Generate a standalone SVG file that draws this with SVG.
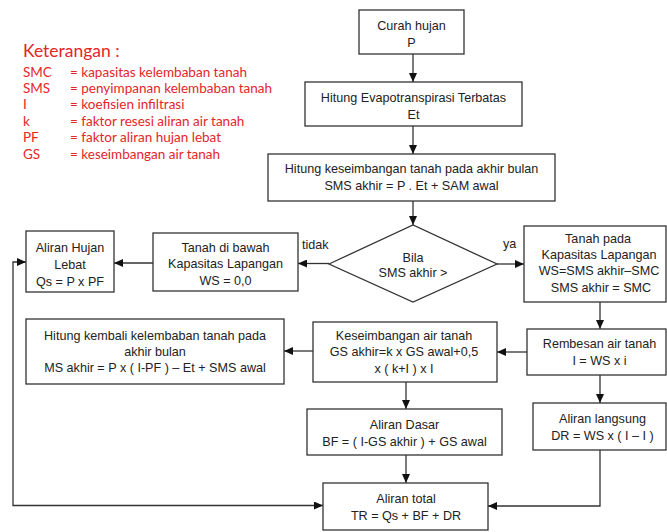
<svg xmlns="http://www.w3.org/2000/svg" width="667" height="532" viewBox="0 0 667 532">
<style>
.box{fill:#fff;stroke:#333;stroke-width:1.3}
.t{font-family:"Liberation Sans",Arial,sans-serif;font-size:12.6px;fill:#222;text-anchor:middle}
.lbl{font-family:"Liberation Sans",Arial,sans-serif;font-size:12.6px;fill:#222}
.leg{font-family:Lato,"Open Sans",sans-serif;font-size:13.5px;fill:#e3262a}
.c{fill:none;stroke:#333;stroke-width:1.3}
</style>
<defs>
<marker id="ah" viewBox="0 0 10 10" refX="10" refY="5" markerWidth="9" markerHeight="8" markerUnits="userSpaceOnUse" orient="auto-start-reverse" preserveAspectRatio="none">
<path d="M0,0 L10,5 L0,10 z" fill="#111"/>
</marker>
</defs>
<rect width="667" height="532" fill="#fff"/>
<g id="legend">
<text class="leg" x="23" y="57" style="font-size:17.5px">Keterangan :</text>
<text class="leg" x="23" y="76.5">SMC</text><text class="leg" x="70" y="76.5">= kapasitas kelembaban tanah</text>
<text class="leg" x="23" y="92.9">SMS</text><text class="leg" x="70" y="92.9">= penyimpanan kelembaban tanah</text>
<text class="leg" x="23" y="109.3">I</text><text class="leg" x="70" y="109.3">= koefisien infiltrasi</text>
<text class="leg" x="23" y="125.7">k</text><text class="leg" x="70" y="125.7">= faktor resesi aliran air tanah</text>
<text class="leg" x="23" y="142.1">PF</text><text class="leg" x="70" y="142.1">= faktor aliran hujan lebat</text>
<text class="leg" x="23" y="158.5">GS</text><text class="leg" x="70" y="158.5">= keseimbangan air tanah</text>
</g>
<g id="connectors">
<line class="c" x1="413" y1="54" x2="413" y2="82" marker-end="url(#ah)"/>
<line class="c" x1="413" y1="126" x2="413" y2="154" marker-end="url(#ah)"/>
<line class="c" x1="413" y1="201" x2="413" y2="225" marker-end="url(#ah)"/>
<line class="c" x1="329" y1="263.5" x2="298" y2="263.5" marker-end="url(#ah)"/>
<line class="c" x1="153" y1="263" x2="114" y2="263" marker-end="url(#ah)"/>
<line class="c" x1="497" y1="264" x2="524" y2="264" marker-end="url(#ah)"/>
<line class="c" x1="600" y1="302" x2="600" y2="329" marker-end="url(#ah)"/>
<line class="c" x1="527" y1="352" x2="497" y2="352" marker-end="url(#ah)"/>
<line class="c" x1="313" y1="351" x2="284" y2="351" marker-end="url(#ah)"/>
<line class="c" x1="406" y1="382" x2="406" y2="409" marker-end="url(#ah)"/>
<line class="c" x1="600" y1="375" x2="600" y2="403" marker-end="url(#ah)"/>
<line class="c" x1="406" y1="455" x2="406" y2="483" marker-end="url(#ah)"/>
<path class="c" d="M600,450 V506 H488" marker-end="url(#ah)"/>
<path class="c" d="M26,262 H13 V505.5 H323" marker-start="url(#ah)" marker-end="url(#ah)"/>
<text class="lbl" x="302" y="248.5">tidak</text>
<text class="lbl" x="503" y="247.5">ya</text>
</g>
<g id="curah">
<rect class="box" x="359" y="10" width="105" height="44"/>
<text class="t" x="411.5" y="29.5">Curah hujan</text>
<text class="t" x="411.5" y="46.5">P</text>
</g>
<g id="evapo">
<rect class="box" x="305" y="82" width="217" height="44"/>
<text class="t" x="413.5" y="101.5">Hitung Evapotranspirasi Terbatas</text>
<text class="t" x="413.5" y="118.5">Et</text>
</g>
<g id="keseimbangan-tanah">
<rect class="box" x="268" y="154" width="287" height="47"/>
<text class="t" x="411.5" y="172.5">Hitung keseimbangan tanah pada akhir bulan</text>
<text class="t" x="411.5" y="189.5">SMS akhir = P . Et + SAM awal</text>
</g>
<g id="bila">
<polygon class="box" points="329,264 413,225 497,264 413,302"/>
<text class="t" x="413" y="261.5">Bila</text>
<text class="t" x="413" y="276.5">SMS akhir &gt;</text>
</g>
<g id="tanah-bawah">
<rect class="box" x="153" y="233" width="145" height="58"/>
<text class="t" x="225.5" y="251.5">Tanah di bawah</text>
<text class="t" x="225.5" y="268">Kapasitas Lapangan</text>
<text class="t" x="225.5" y="284.5">WS = 0,0</text>
</g>
<g id="aliran-hujan">
<rect class="box" x="26" y="231" width="88" height="61"/>
<text class="t" x="70" y="251.5">Aliran Hujan</text>
<text class="t" x="70" y="268.5">Lebat</text>
<text class="t" x="70" y="285.5">Qs = P x PF</text>
</g>
<g id="tanah-pada">
<rect class="box" x="524" y="226" width="142" height="76"/>
<text class="t" x="598" y="242.5">Tanah pada</text>
<text class="t" x="599" y="258.5">Kapasitas Lapangan</text>
<text class="t" x="599" y="275">WS=SMS akhir–SMC</text>
<text class="t" x="601" y="291.5">SMS akhir = SMC</text>
</g>
<g id="rembesan">
<rect class="box" x="527" y="329" width="139" height="46"/>
<text class="t" x="599.5" y="348">Rembesan air tanah</text>
<text class="t" x="599.5" y="364.5">I = WS x i</text>
</g>
<g id="keseimbangan-air">
<rect class="box" x="313" y="322" width="184" height="60"/>
<text class="t" x="404" y="339.5">Keseimbangan air tanah</text>
<text class="t" x="404" y="355.5">GS akhir=k x GS awal+0,5</text>
<text class="t" x="404" y="372.5">x ( k+I ) x I</text>
</g>
<g id="hitung-kembali">
<rect class="box" x="26" y="319" width="258" height="65"/>
<text class="t" x="155" y="339.5">Hitung kembali kelembaban tanah pada</text>
<text class="t" x="155" y="355.5">akhir bulan</text>
<text class="t" x="155" y="371.5">MS akhir = P x ( I-PF ) – Et + SMS awal</text>
</g>
<g id="aliran-dasar">
<rect class="box" x="307" y="409" width="195" height="46"/>
<text class="t" x="404.5" y="428.5">Aliran Dasar</text>
<text class="t" x="404.5" y="445.5">BF = ( I-GS akhir ) + GS awal</text>
</g>
<g id="aliran-langsung">
<rect class="box" x="533" y="403" width="133" height="47"/>
<text class="t" x="602.5" y="422.5">Aliran langsung</text>
<text class="t" x="602.5" y="439.5">DR = WS x ( I – I )</text>
</g>
<g id="aliran-total">
<rect class="box" x="323" y="483" width="165" height="47"/>
<text class="t" x="406" y="502.5">Aliran total</text>
<text class="t" x="406" y="519.5">TR = Qs + BF + DR</text>
</g>
</svg>
